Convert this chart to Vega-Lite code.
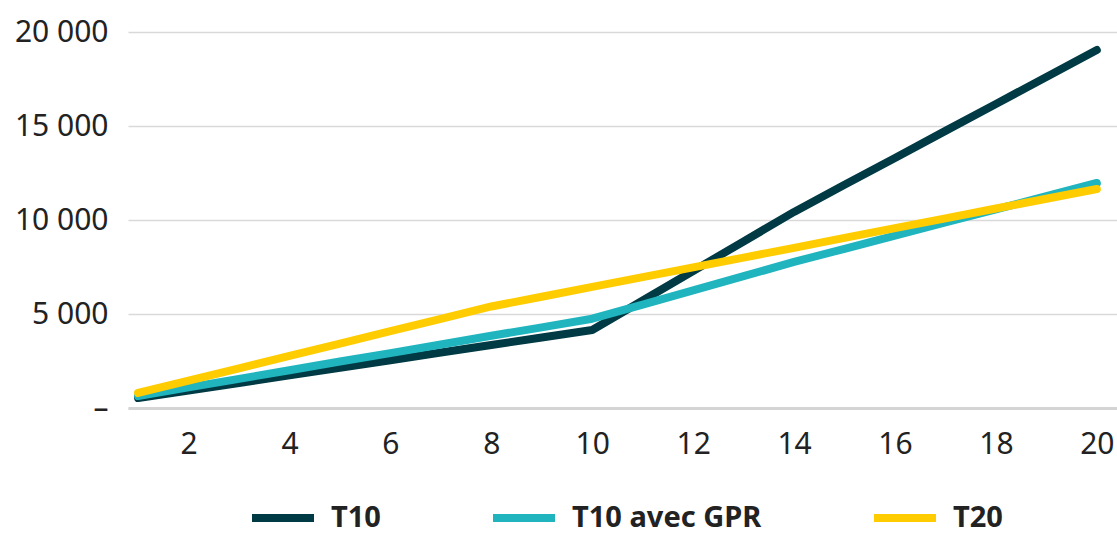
{
  "$schema": "https://vega.github.io/schema/vega-lite/v6.json",
  "width": 989,
  "height": 376,
  "autosize": "none",
  "padding": {"left": 128, "top": 32, "right": 0, "bottom": 127},
  "background": "white",
  "config": {
    "view": {"stroke": null},
    "font": "Noto Sans"
  },
  "datasets": {
    "rows": [
      {"annee": 1, "serie": "T10", "valeur": 530},
      {"annee": 2, "serie": "T10", "valeur": 930},
      {"annee": 3, "serie": "T10", "valeur": 1330},
      {"annee": 4, "serie": "T10", "valeur": 1740},
      {"annee": 5, "serie": "T10", "valeur": 2140},
      {"annee": 6, "serie": "T10", "valeur": 2540},
      {"annee": 7, "serie": "T10", "valeur": 2950},
      {"annee": 8, "serie": "T10", "valeur": 3350},
      {"annee": 9, "serie": "T10", "valeur": 3750},
      {"annee": 10, "serie": "T10", "valeur": 4150},
      {"annee": 11, "serie": "T10", "valeur": 5720},
      {"annee": 12, "serie": "T10", "valeur": 7290},
      {"annee": 13, "serie": "T10", "valeur": 8860},
      {"annee": 14, "serie": "T10", "valeur": 10430},
      {"annee": 15, "serie": "T10", "valeur": 11870},
      {"annee": 16, "serie": "T10", "valeur": 13300},
      {"annee": 17, "serie": "T10", "valeur": 14740},
      {"annee": 18, "serie": "T10", "valeur": 16170},
      {"annee": 19, "serie": "T10", "valeur": 17610},
      {"annee": 20, "serie": "T10", "valeur": 19040},
      {"annee": 1, "serie": "T10 avec GPR", "valeur": 640},
      {"annee": 2, "serie": "T10 avec GPR", "valeur": 1100},
      {"annee": 3, "serie": "T10 avec GPR", "valeur": 1550},
      {"annee": 4, "serie": "T10 avec GPR", "valeur": 2010},
      {"annee": 5, "serie": "T10 avec GPR", "valeur": 2470},
      {"annee": 6, "serie": "T10 avec GPR", "valeur": 2920},
      {"annee": 7, "serie": "T10 avec GPR", "valeur": 3380},
      {"annee": 8, "serie": "T10 avec GPR", "valeur": 3840},
      {"annee": 9, "serie": "T10 avec GPR", "valeur": 4290},
      {"annee": 10, "serie": "T10 avec GPR", "valeur": 4750},
      {"annee": 11, "serie": "T10 avec GPR", "valeur": 5500},
      {"annee": 12, "serie": "T10 avec GPR", "valeur": 6260},
      {"annee": 13, "serie": "T10 avec GPR", "valeur": 7010},
      {"annee": 14, "serie": "T10 avec GPR", "valeur": 7770},
      {"annee": 15, "serie": "T10 avec GPR", "valeur": 8470},
      {"annee": 16, "serie": "T10 avec GPR", "valeur": 9170},
      {"annee": 17, "serie": "T10 avec GPR", "valeur": 9870},
      {"annee": 18, "serie": "T10 avec GPR", "valeur": 10570},
      {"annee": 19, "serie": "T10 avec GPR", "valeur": 11270},
      {"annee": 20, "serie": "T10 avec GPR", "valeur": 11970},
      {"annee": 1, "serie": "T20", "valeur": 800},
      {"annee": 2, "serie": "T20", "valeur": 1460},
      {"annee": 3, "serie": "T20", "valeur": 2110},
      {"annee": 4, "serie": "T20", "valeur": 2770},
      {"annee": 5, "serie": "T20", "valeur": 3430},
      {"annee": 6, "serie": "T20", "valeur": 4090},
      {"annee": 7, "serie": "T20", "valeur": 4740},
      {"annee": 8, "serie": "T20", "valeur": 5400},
      {"annee": 9, "serie": "T20", "valeur": 5920},
      {"annee": 10, "serie": "T20", "valeur": 6440},
      {"annee": 11, "serie": "T20", "valeur": 6960},
      {"annee": 12, "serie": "T20", "valeur": 7480},
      {"annee": 13, "serie": "T20", "valeur": 8000},
      {"annee": 14, "serie": "T20", "valeur": 8520},
      {"annee": 15, "serie": "T20", "valeur": 9050},
      {"annee": 16, "serie": "T20", "valeur": 9570},
      {"annee": 17, "serie": "T20", "valeur": 10090},
      {"annee": 18, "serie": "T20", "valeur": 10610},
      {"annee": 19, "serie": "T20", "valeur": 11130},
      {"annee": 20, "serie": "T20", "valeur": 11650}
    ]
  },
  "data": {"name": "rows"},
  "mark": {"type": "line", "strokeWidth": 8, "strokeCap": "round", "strokeJoin": "round"},
  "encoding": {
    "x": {
      "field": "annee",
      "type": "quantitative",
      "scale": {"domain": [0.8, 20.4], "nice": false, "zero": false},
      "axis": {
        "title": null,
        "values": [2, 4, 6, 8, 10, 12, 14, 16, 18, 20],
        "grid": false,
        "ticks": false,
        "domain": true,
        "domainColor": "#d4d4d4",
        "domainWidth": 3,
        "labelFont": "Noto Sans",
        "labelFontSize": 30,
        "labelColor": "#222222",
        "labelPadding": 21
      }
    },
    "y": {
      "field": "valeur",
      "type": "quantitative",
      "scale": {"domain": [0, 20000], "nice": false},
      "axis": {
        "title": null,
        "values": [0, 5000, 10000, 15000, 20000],
        "grid": true,
        "gridColor": "#d9d9d9",
        "gridWidth": 1.3,
        "ticks": false,
        "domain": false,
        "labelFont": "Noto Sans",
        "labelFontSize": 30,
        "labelColor": "#222222",
        "labelPadding": 20,
        "labelExpr": "datum.value == 0 ? '–' : replace(format(datum.value, ','), ',', ' ')"
      }
    },
    "color": {
      "field": "serie",
      "type": "nominal",
      "scale": {
        "domain": ["T10", "T10 avec GPR", "T20"],
        "range": ["#003a45", "#20b5be", "#ffcc00"]
      },
      "legend": {
        "title": null,
        "orient": "none",
        "direction": "horizontal",
        "legendX": 120,
        "legendY": 451,
        "symbolType": "stroke",
        "symbolSize": 3844,
        "symbolStrokeWidth": 8,
        "labelFont": "Noto Sans",
        "labelFontSize": 29,
        "labelFontWeight": "bold",
        "labelColor": "#222222",
        "labelOffset": 13,
        "columnPadding": 96,
        "labelLimit": 400
      }
    }
  }
}
